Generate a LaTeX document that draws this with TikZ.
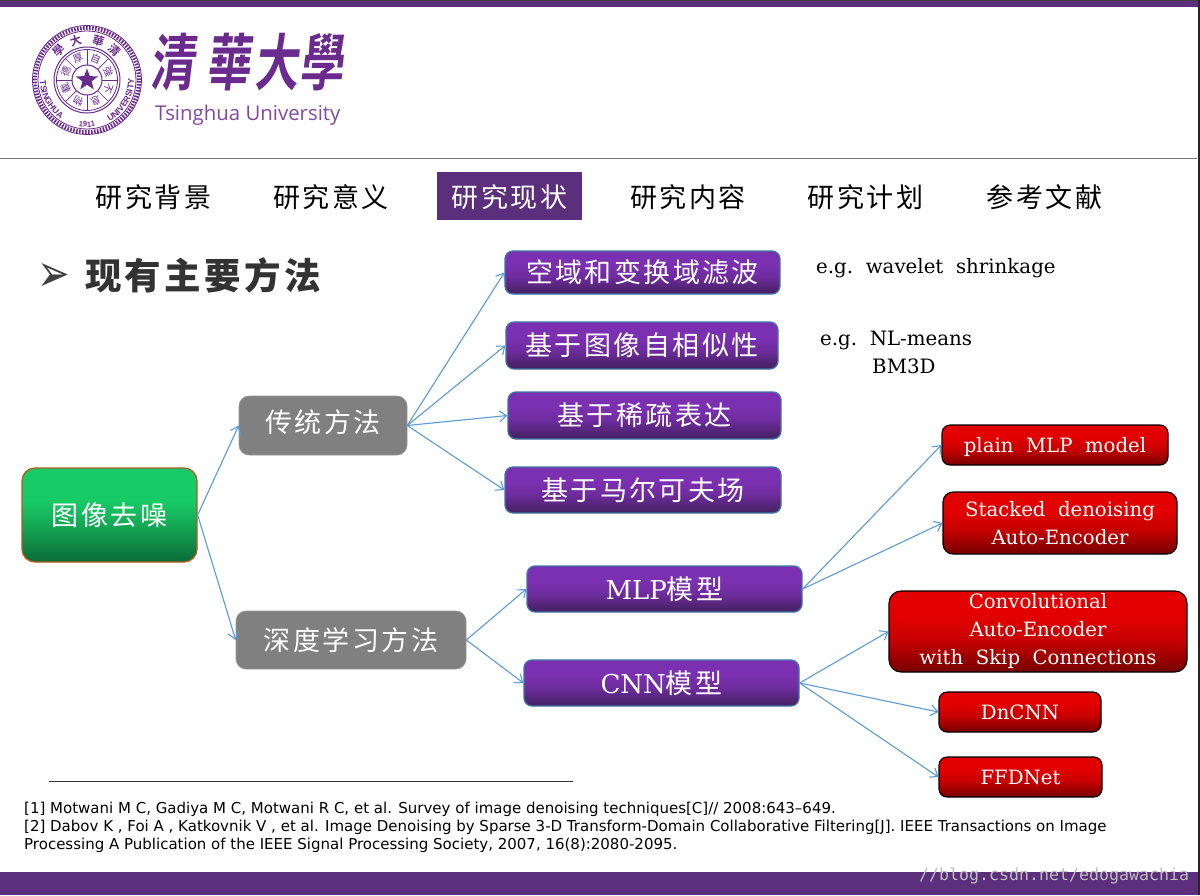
\documentclass[tikz,border=0pt]{standalone}
\usepackage{fontspec}
\usetikzlibrary{arrows.meta,shapes.geometric,decorations.text}
\setmainfont{DejaVu Serif}
\newfontfamily\cjk[LetterSpace=9]{Noto Sans CJK SC}
\newfontfamily\logofont{Noto Sans CJK TC Bold}
\newfontfamily\sealfont{Noto Sans CJK TC}
\newfontfamily\logosans{Liberation Sans}
\newfontfamily\wordsans{Open Sans}
\newfontfamily\refsans{DejaVu Sans}
\newfontfamily\markmono{DejaVu Sans Mono}
\newcommand{\nudgetext}[2]{\vphantom{#2}\smash{\raisebox{#1}{#2}}}
\definecolor{bar}{HTML}{5B2F7C}
\definecolor{tsing}{HTML}{6B2A8E}
\definecolor{ptop}{HTML}{7A30B0}
\definecolor{pmid}{HTML}{6E2C9E}
\definecolor{pbot}{HTML}{43205F}
\definecolor{pedge}{HTML}{3F74A8}
\definecolor{rtop}{HTML}{E30000}
\definecolor{rmid}{HTML}{C80000}
\definecolor{rbot}{HTML}{760000}
\definecolor{gtop}{HTML}{17CC66}
\definecolor{gmid}{HTML}{14A955}
\definecolor{gbot}{HTML}{0B6B37}
\definecolor{gedge}{HTML}{B85A1E}
\definecolor{link}{HTML}{5B9BD5}
\pgfdeclareverticalshading{purpshade}{100bp}{color(0bp)=(pbot);color(25bp)=(pbot);color(45bp)=(pmid);color(58bp)=(ptop);color(100bp)=(ptop)}
\pgfdeclareverticalshading{redshade}{100bp}{color(0bp)=(rbot);color(25bp)=(rbot);color(45bp)=(rmid);color(60bp)=(rtop);color(100bp)=(rtop)}
\pgfdeclareverticalshading{greenshade}{100bp}{color(0bp)=(gbot);color(25bp)=(gbot);color(45bp)=(gmid);color(58bp)=(gtop);color(100bp)=(gtop)}
\tikzset{
  boxbase/.style={text=white,align=center,inner sep=0pt,rounded corners=8pt,line width=1.3pt},
  purplebox/.style={boxbase,draw=pedge,shading=purpshade,font=\fontsize{26}{30}\selectfont},
  redbox/.style={boxbase,draw=black,line width=1.1pt,shading=redshade,font=\fontsize{19.7}{28}\selectfont},
  graybox/.style={boxbase,fill=black!50,draw=black!40,line width=.6pt,rounded corners=10pt},
  greenbox/.style={boxbase,draw=gedge,shading=greenshade,rounded corners=13pt},
  conn/.style={draw=link,line width=1.1pt,-{Straight Barb[length=7pt,width=11pt,line width=1.1pt]}},
  cjklabel/.style={font=\cjk\fontsize{27}{30}\selectfont},
  tab/.style={inner sep=0pt,font=\cjk\fontsize{27}{30}\selectfont},
  note/.style={anchor=west,inner sep=0pt,font=\fontsize{19.8}{26}\selectfont,text=black},
  refline/.style={anchor=west,inner sep=0pt,font=\refsans\fontsize{15}{18}\selectfont,text=black},
  sealline/.style={draw=tsing},
  sealchar/.style={text=tsing,inner sep=0pt},
}
\begin{document}
\begin{tikzpicture}[x=1pt,y=-1pt]
\useasboundingbox (0,0) rectangle (1200,895);
\fill[white] (0,0) rectangle (1200,895);
% frame bars
\fill[bar] (0,0) rectangle (1198,7);
\fill[black!75] (0,0) rectangle (1198,1);
\fill[bar] (0,872) rectangle (1198,895);
\fill[black!85] (1198,0) rectangle (1200,895);
\draw[black!55,line width=.9pt] (0,158) -- (1197,158);
% seal
\begin{scope}[shift={(87,80)},y=1pt]
  \draw[sealline,line width=.8pt] (0,0) circle[radius=54.5];
  \draw[sealline,line width=4pt,dash pattern=on 1.6pt off 1.4pt] (0,0) circle[radius=52];
  \draw[sealline,line width=.8pt] (0,0) circle[radius=49];
  \draw[sealline,line width=1pt] (0,0) circle[radius=33];
  \draw[sealline,line width=.8pt] (0,0) circle[radius=30.5];
  \draw[sealline,line width=1pt] (0,0) circle[radius=15];
  \foreach \a in {0,45,...,315} \draw[sealline,line width=.7pt] (\a:15) -- (\a:30.5);
  \foreach \a/\c [count=\i] in {112.5/厚,157.5/德,202.5/載,247.5/物,67.5/自,22.5/強,-22.5/不,-67.5/息}
    \node[sealchar,rotate=\a-90,font=\sealfont\fontsize{10}{10}\selectfont] (inner\i) at (\a:23) {\c};
  \node[star,star points=5,star point ratio=2.4,fill=tsing,minimum size=23pt,inner sep=0pt] (sealstar) at (0,0) {};
  \foreach \a/\c [count=\i] in {133/學,106/大,74/華,47/清}
    \node[sealchar,rotate=\a-90,font=\logofont\fontsize{11.5}{12}\selectfont] (outer\i) at (\a:41) {\c};
  \path[decorate,decoration={text along path,text align=center,text color=tsing,
     text={|\logosans\bfseries\fontsize{8.6}{9}\selectfont|TSINGHUA}}]
     (165:47) arc[start angle=165,end angle=252,radius=47];
  \path[decorate,decoration={text along path,text align=center,text color=tsing,
     text={|\logosans\bfseries\fontsize{8.6}{9}\selectfont|UNIVERSITY}}]
     (285:47) arc[start angle=285,end angle=375,radius=47];
  \path[decorate,decoration={text along path,text align=center,text color=tsing,
     text={|\logosans\bfseries\fontsize{7.5}{9}\selectfont|~1911~}}]
     (250:47) arc[start angle=250,end angle=290,radius=47];
\end{scope}
% wordmark
\foreach \x/\c [count=\i] in {175/清,231/華,279/大,324/學}
  \node[inner sep=0pt,text=tsing,font=\logofont\fontsize{44}{44}\selectfont,xslant=.12,yscale=1.4] (logo\i) at (\x,62) {\c};
\node[inner sep=0pt,anchor=west,text=tsing!85!white,font=\wordsans\fontsize{20.4}{24}\selectfont] (logoen) at (155,115) {Tsinghua University};
% nav
\node[tab] (nav1) at (153.5,197) {研究背景};
\node[tab] (nav2) at (331,197) {研究意义};
\node[fill=bar,minimum width=145pt,minimum height=48pt,inner sep=0pt] (navbox) at (509.5,196) {};
\node[tab,text=white] (nav3) at (509.5,197) {研究现状};
\node[tab] (nav4) at (688,197) {研究内容};
\node[tab] (nav5) at (865.5,197) {研究计划};
\node[tab] (nav6) at (1044.5,197) {参考文献};
% heading
\node[inner sep=0pt,text=black!75,font=\refsans\fontsize{39}{40}\selectfont,yscale=1.35] (bullet) at (54,277) {➢};
\node[inner sep=0pt,anchor=west,text=black!80,font=\cjk\bfseries\fontsize{36.5}{38}\selectfont] (head) at (85,275) {现有主要方法};
% boxes
\node[greenbox,minimum width=175pt,minimum height=94pt,cjklabel] (root) at (109.5,515) {图像去噪};
\node[graybox,minimum width=168pt,minimum height=59pt,cjklabel] (trad) at (323,425.5) {\nudgetext{3pt}{传统方法}};
\node[graybox,minimum width=230pt,minimum height=58pt,cjklabel] (deep) at (351,640) {深度学习方法};
\node[purplebox,minimum width=275pt,minimum height=43pt,cjklabel] (s1) at (642.5,272.5) {空域和变换域滤波};
\node[purplebox,minimum width=272pt,minimum height=47pt,cjklabel] (s2) at (642,345.5) {基于图像自相似性};
\node[purplebox,minimum width=273pt,minimum height=47pt,cjklabel] (s3) at (644.5,415.5) {基于稀疏表达};
\node[purplebox,minimum width=276pt,minimum height=46pt,cjklabel] (s4) at (643,490) {基于马尔可夫场};
\node[purplebox,minimum width=275pt,minimum height=46pt] (mlp) at (664.5,589) {MLP{\cjk\fontsize{27}{30}\selectfont 模型}};
\node[purplebox,minimum width=275pt,minimum height=46pt] (cnn) at (661.5,683) {CNN{\cjk\fontsize{27}{30}\selectfont 模型}};
\node[redbox,minimum width=226pt,minimum height=40pt] (plain) at (1055,445) {\nudgetext{-2pt}{plain\ \ MLP\ \ model}};
\node[redbox,minimum width=234pt,minimum height=62pt,rounded corners=10pt] (sda) at (1060,523) {Stacked\ \ denoising\\Auto-Encoder};
\node[redbox,minimum width=298pt,minimum height=81pt,rounded corners=12pt] (cae) at (1038,631.5) {Convolutional\\Auto-Encoder\\with\ \ Skip\ \ Connections};
\node[redbox,minimum width=162pt,minimum height=40pt] (dn) at (1020,712) {DnCNN};
\node[redbox,minimum width=163pt,minimum height=40pt] (ffd) at (1020.5,777) {FFDNet};
% notes
\node[note] (n1) at (816,268) {e.g.\ \ wavelet\ \ shrinkage};
\node[note] (n2) at (820,340) {e.g.\ \ NL-means};
\node[note] (n3) at (872,366) {BM3D};
% connectors
\draw[conn] (root.east) -- (trad.west);
\draw[conn] (root.east) -- (deep.west);
\draw[conn] (trad.east) -- (s1.west);
\draw[conn] (trad.east) -- (s2.west);
\draw[conn] (trad.east) -- (s3.west);
\draw[conn] (trad.east) -- (s4.west);
\draw[conn] (deep.east) -- (mlp.west);
\draw[conn] (deep.east) -- (cnn.west);
\draw[conn] (mlp.east) -- (plain.west);
\draw[conn] (mlp.east) -- (sda.west);
\draw[conn] (cnn.east) -- (cae.west);
\draw[conn] (cnn.east) -- (dn.west);
\draw[conn] (cnn.east) -- (ffd.west);
% references
\coordinate (ruleA) at (49,781);
\coordinate (ruleB) at (573,781);
\draw[black!80,line width=.7pt] (ruleA) -- (ruleB);
\node[refline] (r1) at (24,809) {[1] Motwani M C, Gadiya M C, Motwani R C, et al. Survey of image denoising techniques[C]// 2008:643–649.};
\node[refline] (r2) at (24,827) {[2] Dabov K , Foi A , Katkovnik V , et al. Image Denoising by Sparse 3-D Transform-Domain Collaborative Filtering[J]. IEEE Transactions on Image};
\node[refline] (r3) at (24,845) {Processing A Publication of the IEEE Signal Processing Society, 2007, 16(8):2080-2095.};
% watermark
\node[inner sep=0pt,anchor=west,text=black!25,font=\markmono\fontsize{16.6}{18}\selectfont] (mark) at (919,876) {//blog.csdn.net/edogawachia};
\end{tikzpicture}
\end{document}
